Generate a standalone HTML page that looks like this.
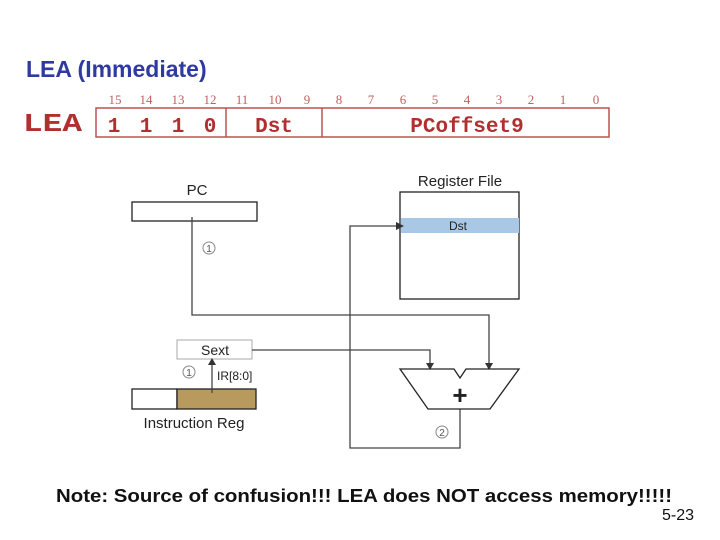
<!DOCTYPE html>
<html><head><style>
body{margin:0;width:720px;height:540px;background:#fff;overflow:hidden;position:relative;font-family:"Liberation Sans",sans-serif}
.t{position:absolute;white-space:nowrap}
</style></head><body>
<div class="t" style="left:26px;top:56px;font-size:23px;font-weight:bold;color:#2f3a9e">LEA (Immediate)</div>
<svg width="720" height="540" style="position:absolute;left:0;top:0" font-family="Liberation Sans, sans-serif">
<g font-family="Liberation Mono, monospace" fill="#b03030">
<text x="23" y="131" font-size="26" font-weight="bold" textLength="59" lengthAdjust="spacingAndGlyphs">LEA</text>
<g font-size="13" fill="#c06060" text-anchor="middle" font-family="Liberation Serif, serif">
<text x="115" y="104">15</text><text x="146" y="104">14</text><text x="178" y="104">13</text><text x="210" y="104">12</text><text x="242" y="104">11</text><text x="275" y="104">10</text><text x="307" y="104">9</text><text x="339" y="104">8</text><text x="371" y="104">7</text><text x="403" y="104">6</text><text x="435" y="104">5</text><text x="467" y="104">4</text><text x="499" y="104">3</text><text x="531" y="104">2</text><text x="563" y="104">1</text><text x="596" y="104">0</text>
</g>
<rect x="96" y="108" width="513" height="29" fill="none" stroke="#c05050" stroke-width="1.5"/>
<line x1="226" y1="108" x2="226" y2="137" stroke="#c05050" stroke-width="1.5"/>
<line x1="322" y1="108" x2="322" y2="137" stroke="#c05050" stroke-width="1.5"/>
<g font-size="21" font-weight="bold" text-anchor="middle">
<text x="114" y="132">1</text><text x="146" y="132">1</text><text x="178" y="132">1</text><text x="210" y="132">0</text>
<text x="274" y="132">Dst</text><text x="467" y="132">PCoffset9</text>
</g></g>
<g stroke="#333" fill="none" stroke-width="1.3">
<rect x="132" y="202" width="125" height="19" stroke="#222"/>
<rect x="400" y="192" width="119" height="107" stroke="#222"/>
</g>
<rect x="401" y="218" width="118" height="15" fill="#a9c8e6"/>
<text x="197" y="195" font-size="15" text-anchor="middle" fill="#222">PC</text>
<text x="460" y="186" font-size="15" text-anchor="middle" fill="#222">Register File</text>
<text x="458" y="230" font-size="12" text-anchor="middle" fill="#222">Dst</text>
<rect x="177" y="340" width="75" height="19" fill="#fff" stroke="#aaa"/>
<text x="215" y="355" font-size="14" text-anchor="middle" fill="#222">Sext</text>
<rect x="132" y="389" width="45" height="20" fill="#fff" stroke="#222" stroke-width="1.3"/>
<rect x="177" y="389" width="79" height="20" fill="#b8995e" stroke="#222" stroke-width="1.3"/>
<text x="194" y="428" font-size="15" text-anchor="middle" fill="#222">Instruction Reg</text>
<text x="217" y="380" font-size="12" fill="#222">IR[8:0]</text>
<g stroke="#444" fill="none" stroke-width="1.3">
<polyline points="192,217 192,315 489,315 489,364"/>
<polyline points="252,350 430,350 430,364"/>
<line x1="212" y1="393" x2="212" y2="364"/>
<polyline points="460,409 460,448 350,448 350,226 396,226"/>
</g>
<g fill="#333">
<polygon points="485,363 493,363 489,370"/>
<polygon points="426,363 434,363 430,370"/>
<polygon points="208,365 216,365 212,358"/>
<polygon points="396,222 396,230 404,226"/>
</g>
<polygon points="400,369 454,369 460,378 466,369 519,369 490,409 428,409" fill="#fff" stroke="#222" stroke-width="1.3"/>
<text x="460" y="404" font-size="26" font-weight="bold" text-anchor="middle" fill="#222">+</text>
<g font-size="10" text-anchor="middle" fill="#555">
<circle cx="209" cy="248" r="6" fill="none" stroke="#888"/><text x="209" y="252">1</text>
<circle cx="189" cy="372" r="6" fill="none" stroke="#888"/><text x="189" y="376">1</text>
<circle cx="442" cy="432" r="6" fill="none" stroke="#888"/><text x="442" y="436">2</text>
</g>
<text x="56" y="502" font-size="18" font-weight="bold" fill="#111" textLength="616" lengthAdjust="spacingAndGlyphs">Note:  Source of confusion!!! LEA does NOT access memory!!!!!</text>
<text x="694" y="520" font-size="16" fill="#111" text-anchor="end">5-23</text>
</svg>
</body></html>
